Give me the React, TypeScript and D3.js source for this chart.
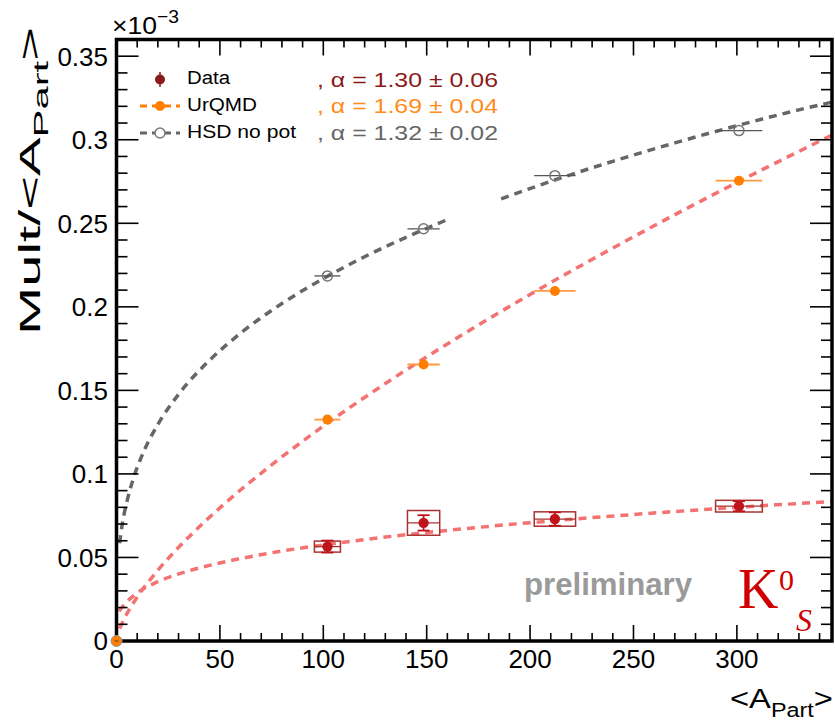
import React from "react";
import * as d3 from "d3";

// ---- data ----
const xMajorTicks = [0, 50, 100, 150, 200, 250, 300];
const yMajorTicks = [0, 0.05, 0.1, 0.15, 0.2, 0.25, 0.3, 0.35];
const yTickLabels = ["0", "0.05", "0.1", "0.15", "0.2", "0.25", "0.3", "0.35"];

const aPart = [102, 148.5, 212, 301];
const xErr = [6.3, 7.8, 10, 11.3];
const dataY = [0.0565, 0.0707, 0.073, 0.0807];
const dataStat = [0.0036, 0.0046, 0.004, 0.003];
const dataSys = [0.0033, 0.0074, 0.0043, 0.0035];
const urqmdY = [0.1325, 0.1655, 0.2095, 0.2755];
const hsdY = [0.2185, 0.2467, 0.2785, 0.3055];

const dataFitX = [1.2, 2, 5, 10, 20, 35, 50, 75, 100, 130, 160, 200, 250, 300, 346];
const dataFitY = [0.0178, 0.0192, 0.0234, 0.0288, 0.0355, 0.042, 0.0467, 0.0528, 0.0575, 0.0622, 0.0662, 0.0708, 0.0757, 0.08, 0.0835];
const urqmdFitX = [1.5, 3, 6, 10, 20, 35, 50, 75, 100, 130, 160, 200, 250, 300, 346];
const urqmdFitY = [0.0075, 0.0114, 0.0185, 0.0263, 0.0423, 0.0623, 0.0797, 0.1054, 0.1286, 0.1541, 0.1778, 0.2074, 0.2419, 0.2744, 0.3028];
const hsdFit1X = [1.5, 3, 5, 8, 12, 20, 30, 45, 60, 80, 100, 120, 140, 159];
const hsdFit1Y = [0.0585, 0.0715, 0.0832, 0.0967, 0.1101, 0.1296, 0.1476, 0.168, 0.1842, 0.202, 0.2169, 0.23, 0.2416, 0.2517];
const hsdFit2X = [186, 210, 240, 270, 300, 330, 346];
const hsdFit2Y = [0.2646, 0.2751, 0.2871, 0.2981, 0.3084, 0.3179, 0.3225];

const legendLabels = ["Data", "UrQMD", "HSD no pot"];
const alphaLabels = [", \u03b1 = 1.30 \u00b1 0.06", ", \u03b1 = 1.69 \u00b1 0.04", ", \u03b1 = 1.32 \u00b1 0.02"];

// ---- styles ----
const W = 835, H = 721;
const X0 = 116.5, X1 = 832, Y0 = 641, Y1 = 39.5;
const FONT = "'Liberation Sans', Arial, sans-serif";
const SERIF = "'Liberation Serif', 'Times New Roman', serif";
const DATA_RED = "#c0141c";
const BOX_RED = "#a83232";
const FIT_RED = "#f37272";
const ORANGE = "#ff7f00";
const GRAY = "#666666";

export default function App() {
  const x = d3.scaleLinear().domain([0, 346]).range([X0, X1]);
  const y = d3.scaleLinear().domain([0, 0.36]).range([Y0, Y1]);
  const line = d3.line<[number, number]>().x(d => x(d[0])).y(d => y(d[1])).curve(d3.curveMonotoneX);
  const zip = (a: number[], b: number[]) => a.map((v, i) => [v, b[i]] as [number, number]);

  const yMinor = d3.range(0, 0.3601, 0.01).filter(v => !yMajorTicks.some(m => Math.abs(m - v) < 1e-6));
  const xMinor = d3.range(0, 346, 10).filter(v => v % 50 !== 0);

  return (
    <svg width={W} height={H} style={{ position: "absolute", left: 0, top: 0, background: "#fff" }} fontFamily={FONT}>
      <defs>
        <clipPath id="plot">
          <rect x={X0} y={Y1} width={X1 - X0} height={Y0 - Y1} />
        </clipPath>
      </defs>
      <rect width={W} height={H} fill="#fff" />

      {/* fit curves */}
      <g clipPath="url(#plot)" fill="none" strokeWidth={3.5} strokeDasharray="8,6">
        <path d={line(zip(hsdFit1X, hsdFit1Y))!} stroke={GRAY} />
        <path d={line(zip(hsdFit2X, hsdFit2Y))!} stroke={GRAY} />
        <path d={line(zip(urqmdFitX, urqmdFitY))!} stroke={FIT_RED} />
        <path d={line(zip(dataFitX, dataFitY))!} stroke={FIT_RED} />
      </g>

      {/* HSD points */}
      {aPart.map((a, i) => (
        <g key={"h" + i}>
          <line x1={x(a - xErr[i])} x2={x(a + xErr[i])} y1={y(hsdY[i])} y2={y(hsdY[i])} stroke="#555" strokeWidth={1.3} />
          <circle cx={x(a)} cy={y(hsdY[i])} r={5} fill="none" stroke="#777" strokeWidth={1.5} />
        </g>
      ))}
      {/* UrQMD points */}
      {aPart.map((a, i) => (
        <g key={"u" + i}>
          <line x1={x(a - xErr[i])} x2={x(a + xErr[i])} y1={y(urqmdY[i])} y2={y(urqmdY[i])} stroke="#ff9a40" strokeWidth={1.8} />
          <circle cx={x(a)} cy={y(urqmdY[i])} r={5} fill={ORANGE} />
        </g>
      ))}
      {/* Data points */}
      {aPart.map((a, i) => {
        const cx = x(a), cy = y(dataY[i]);
        const xl = x(a - xErr[i]), xr = x(a + xErr[i]);
        const yt = y(dataY[i] + dataSys[i]), yb = y(dataY[i] - dataSys[i]);
        const st = y(dataY[i] + dataStat[i]), sb = y(dataY[i] - dataStat[i]);
        return (
          <g key={"d" + i}>
            <rect x={xl} y={yt} width={xr - xl} height={yb - yt} fill="none" stroke={BOX_RED} strokeWidth={1.5} />
            <line x1={xl} x2={xr} y1={cy} y2={cy} stroke={BOX_RED} strokeWidth={1.3} />
            <line x1={cx} x2={cx} y1={st} y2={sb} stroke={DATA_RED} strokeWidth={1.8} />
            <line x1={cx - 6} x2={cx + 6} y1={st} y2={st} stroke={DATA_RED} strokeWidth={1.8} />
            <line x1={cx - 6} x2={cx + 6} y1={sb} y2={sb} stroke={DATA_RED} strokeWidth={1.8} />
            <circle cx={cx} cy={cy} r={5.2} fill={DATA_RED} />
          </g>
        );
      })}

      {/* ticks */}
      <g stroke="#000" strokeWidth={1.6}>
        {yMajorTicks.map(v => (
          <g key={"ym" + v}>
            <line x1={X0} x2={X0 + 22} y1={y(v)} y2={y(v)} />
            <line x1={X1} x2={X1 - 22} y1={y(v)} y2={y(v)} />
          </g>
        ))}
        {yMinor.map(v => (
          <g key={"yn" + v}>
            <line x1={X0} x2={X0 + 11} y1={y(v)} y2={y(v)} />
            <line x1={X1} x2={X1 - 11} y1={y(v)} y2={y(v)} />
          </g>
        ))}
        {xMajorTicks.map(v => (
          <g key={"xm" + v}>
            <line x1={x(v)} x2={x(v)} y1={Y0} y2={Y0 - 16} />
            <line x1={x(v)} x2={x(v)} y1={Y1} y2={Y1 + 16} />
          </g>
        ))}
        {xMinor.map(v => (
          <g key={"xn" + v}>
            <line x1={x(v)} x2={x(v)} y1={Y0} y2={Y0 - 8} />
            <line x1={x(v)} x2={x(v)} y1={Y1} y2={Y1 + 8} />
          </g>
        ))}
      </g>
      <rect x={X0} y={Y1} width={X1 - X0} height={Y0 - Y1} fill="none" stroke="#000" strokeWidth={3.5} />

      {/* origin point (drawn over the frame) */}
      <circle cx={x(0)} cy={y(0)} r={5.5} fill={ORANGE} stroke="#999" strokeWidth={1} />
      <line x1={x(0) - 2} x2={x(0) + 2} y1={y(0)} y2={y(0)} stroke="#444" strokeWidth={1} />

      {/* tick labels */}
      {yMajorTicks.map((v, i) => (
        <text key={"yl" + v} x={108} y={y(v)} dy="0.36em" textAnchor="end" fontSize={26} fill="#000">{yTickLabels[i]}</text>
      ))}
      {xMajorTicks.map(v => (
        <text key={"xl" + v} x={x(v)} y={668} textAnchor="middle" fontSize={26} fill="#000">{v}</text>
      ))}

      {/* exponent */}
      <text x={112} y={34} fontSize={24} textLength={45} lengthAdjust="spacingAndGlyphs">{"\u00d710"}</text>
      <text x={157} y={23} fontSize={19} textLength={22} lengthAdjust="spacingAndGlyphs">{"\u22123"}</text>

      {/* axis titles */}
      <text transform="translate(40,335) rotate(-90)" fontSize={29} textLength={308} lengthAdjust="spacingAndGlyphs">
        Mult/&lt;A<tspan fontSize={21} dy={8}>Part</tspan><tspan dy={-8}>&gt;</tspan>
      </text>
      <text x={730} y={708} fontSize={28} textLength={103} lengthAdjust="spacingAndGlyphs">
        &lt;A<tspan fontSize={20} dy={9}>Part</tspan><tspan dy={-9}>&gt;</tspan>
      </text>

      {/* legend */}
      <line x1={160} x2={160} y1={72} y2={87} stroke="#8b1a1a" strokeWidth={1.5} />
      <circle cx={160} cy={79.5} r={5} fill="#8b1a1a" />
      <line x1={140} x2={180} y1={106} y2={106} stroke={ORANGE} strokeWidth={3} strokeDasharray="7,5" />
      <circle cx={160} cy={106} r={5} fill={ORANGE} />
      <line x1={140} x2={180} y1={133} y2={133} stroke={GRAY} strokeWidth={3} strokeDasharray="7,5" />
      <circle cx={160} cy={133} r={5} fill="#fff" stroke="#777" strokeWidth={1.5} />
      {legendLabels.map((t, i) => (
        <text key={t} x={187} y={84 + i * 27} fontSize={18} textLength={[43, 70, 109][i]} lengthAdjust="spacingAndGlyphs">{t}</text>
      ))}
      {alphaLabels.map((t, i) => (
        <text key={t} x={317} y={86.5 + i * 26.8} fontSize={19.5} textLength={181} lengthAdjust="spacingAndGlyphs"
          fill={["#8b1a1a", "#ff8c1a", GRAY][i]}>{t}</text>
      ))}

      {/* annotations */}
      <text x={524} y={595} fontSize={31} fontWeight="bold" fill="#9a9a9a" textLength={168} lengthAdjust="spacingAndGlyphs">preliminary</text>
      <text x={738} y={608} fontSize={56} fill="#d00000" fontFamily={SERIF}>K</text>
      <text x={779} y={590} fontSize={30} fill="#d00000" fontFamily={SERIF}>0</text>
      <text x={796} y={631} fontSize={32} fontStyle="italic" fill="#d00000" fontFamily={SERIF}>S</text>
    </svg>
  );
}
